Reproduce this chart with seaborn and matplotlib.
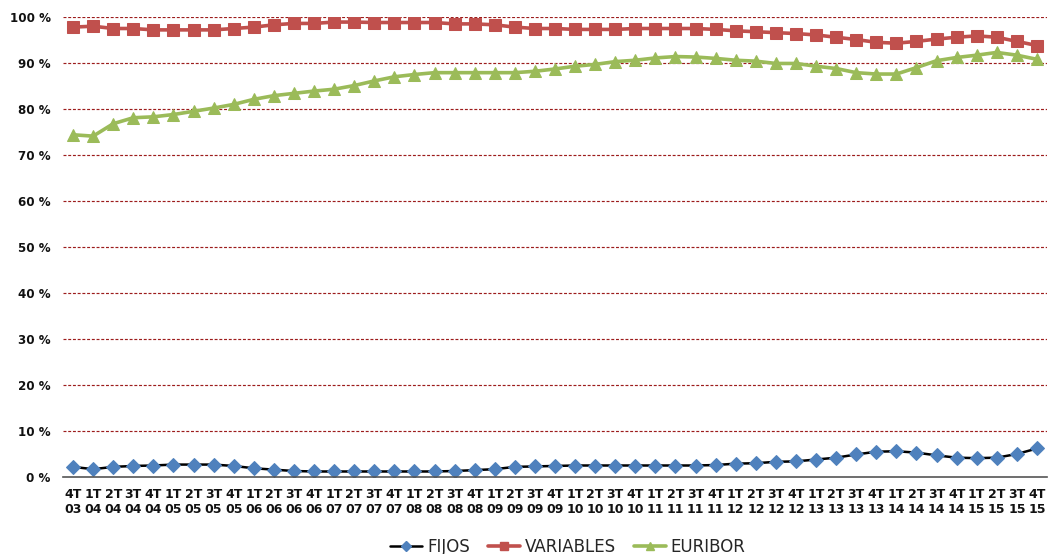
import numpy as np
import pandas as pd
import matplotlib
matplotlib.use("Agg")
import matplotlib.pyplot as plt
import seaborn as sns
from matplotlib.ticker import FuncFormatter
from matplotlib.lines import Line2D

# Quarter labels: 4T 03 ... 4T 15
quarters = ["4T\n03"] + [f"{q}T\n{y:02d}" for y in range(4, 16) for q in range(1, 5)]

fijos = [2.2, 1.7, 2.2, 2.4, 2.5, 2.7, 2.7, 2.7, 2.4, 1.9, 1.6, 1.3, 1.2, 1.2, 1.2,
         1.2, 1.2, 1.2, 1.2, 1.3, 1.5, 1.7, 2.2, 2.3, 2.4, 2.5, 2.5, 2.5, 2.5, 2.5,
         2.5, 2.5, 2.6, 2.9, 3.0, 3.3, 3.4, 3.8, 4.2, 4.9, 5.5, 5.6, 5.3, 4.7, 4.2,
         4.1, 4.2, 5.0, 6.2]
variables = [97.8, 98.0, 97.5, 97.5, 97.2, 97.2, 97.2, 97.2, 97.5, 97.8, 98.3, 98.6,
             98.6, 98.9, 98.9, 98.8, 98.8, 98.8, 98.8, 98.5, 98.5, 98.3, 97.8, 97.5,
             97.5, 97.3, 97.3, 97.3, 97.5, 97.5, 97.5, 97.5, 97.3, 97.0, 96.8, 96.6,
             96.4, 96.1, 95.6, 95.1, 94.5, 94.3, 94.7, 95.2, 95.6, 95.9, 95.6, 94.7,
             93.8]
euribor = [74.4, 74.1, 76.8, 78.1, 78.3, 78.8, 79.5, 80.2, 81.0, 82.1, 82.9, 83.4,
           83.9, 84.3, 85.1, 86.1, 87.0, 87.5, 87.9, 87.9, 87.9, 87.9, 87.9, 88.2,
           88.7, 89.3, 89.7, 90.3, 90.6, 91.1, 91.4, 91.3, 91.0, 90.6, 90.4, 89.9,
           89.9, 89.3, 88.8, 87.9, 87.6, 87.6, 89.0, 90.5, 91.2, 91.7, 92.3, 91.7,
           90.8]

series = ["FIJOS", "VARIABLES", "EURIBOR"]
df = pd.DataFrame({
    "idx": np.tile(np.arange(len(quarters)), 3),
    "valor": np.array(fijos + variables + euribor) / 100.0,
    "serie": np.repeat(series, len(quarters)),
})

sns.set_theme(style="white")
plt.rcParams["font.family"] = ["DejaVu Sans"]

fig = plt.figure(figsize=(10.48, 5.54), dpi=100)
ax = fig.add_axes([63 / 1048, 1 - 477 / 554, 984 / 1048, 460 / 554])

styles = {
    "FIJOS": dict(color="black", marker="D", markersize=7, linewidth=1.8,
                  markerfacecolor="#4F81BD", markeredgecolor="#4F81BD"),
    "VARIABLES": dict(color="#C0504D", marker="s", markersize=8, linewidth=2.6,
                      markerfacecolor="#C0504D", markeredgecolor="#C0504D"),
    "EURIBOR": dict(color="#9BBB59", marker="^", markersize=9, linewidth=2.6,
                    markerfacecolor="#9BBB59", markeredgecolor="#9BBB59"),
}
for name in ["EURIBOR", "VARIABLES", "FIJOS"]:
    sns.lineplot(data=df[df["serie"] == name], x="idx", y="valor", ax=ax,
                 legend=False, **styles[name])

ax.set_xlim(-0.5, len(quarters) - 0.5)
ax.set_ylim(0, 1.0)
ax.set_yticks(np.arange(0, 1.01, 0.1))
ax.yaxis.set_major_formatter(FuncFormatter(lambda v, p: f"{int(round(v * 100))} %"))
ax.set_xticks(np.arange(len(quarters)))
ax.set_xticklabels(quarters, linespacing=1.15)
ax.set_xlabel("")
ax.set_ylabel("")

for lab in ax.get_xticklabels():
    lab.set_fontweight("bold")
    lab.set_fontsize(9)
    lab.set_color("#111111")
for lab in ax.get_yticklabels():
    lab.set_fontweight("bold")
    lab.set_fontsize(8.6)
    lab.set_color("#111111")
ax.tick_params(axis="both", length=0)
ax.tick_params(axis="y", pad=9)
ax.tick_params(axis="x", pad=8)

# dashed horizontal gridlines
for v in np.arange(0.1, 1.01, 0.1):
    ax.axhline(v, color="#9C1C1C", linewidth=0.85, linestyle=(0, (2.5, 1.5)), zorder=0)

for s in ["top", "right", "left"]:
    ax.spines[s].set_visible(False)
ax.spines["bottom"].set_color("#555555")
ax.spines["bottom"].set_linewidth(1.2)
ax.grid(False)

handles = [
    Line2D([], [], color="black", linewidth=1.8, marker="D", markersize=5,
           markerfacecolor="#4F81BD", markeredgecolor="#4F81BD"),
    Line2D([], [], color="#C0504D", linewidth=2.6, marker="s", markersize=6),
    Line2D([], [], color="#9BBB59", linewidth=2.6, marker="^", markersize=6),
]
fig.legend(handles, series, loc="center", bbox_to_anchor=(568 / 1048, 1 - 547 / 554),
           ncol=3, frameon=False, fontsize=12, handlelength=1.9, handletextpad=0.3,
           columnspacing=1.1, borderpad=0)

fig.savefig("out.png", dpi=100)
